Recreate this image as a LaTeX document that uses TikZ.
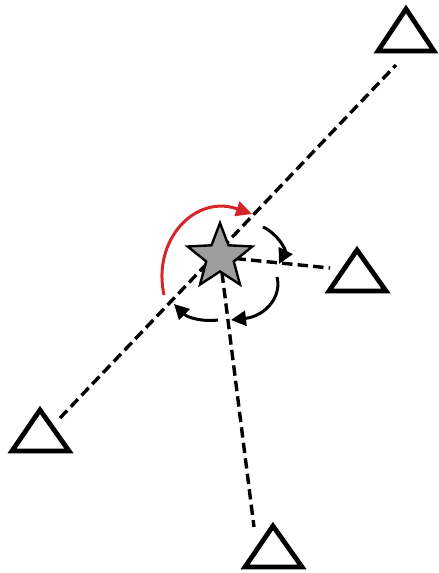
\documentclass[tikz,border=0pt]{standalone}
\usetikzlibrary{arrows.meta,backgrounds,shapes.geometric}
\definecolor{stargray}{RGB}{158,158,158}
\definecolor{arcred}{RGB}{214,36,40}
\tikzset{
  tri/.style={draw=black, line width=2.4pt, fill=white, line join=miter},
  dline/.style={draw=black, line width=1.7pt, dash pattern=on 5.2pt off 2.6pt},
  sarc/.style={draw=black, line width=1.5pt, -{Triangle[length=7.5pt,width=7.5pt]}},
  rarc/.style={draw=arcred, line width=1.5pt, -{Triangle[length=8pt,width=7.5pt]}},
  starnode/.style={star, star points=5, star point ratio=2.35, minimum size=34pt, inner sep=0pt,
    draw=black, line width=1.2pt, fill=stargray, line join=miter}
}
\begin{document}
\begin{tikzpicture}[x=0.5pt,y=-0.5pt]
\useasboundingbox (0,0) rectangle (439,573);
% star
\node[starnode] (s) at (220,257) {};
% line end points
\coordinate (lA) at (60,418);
\coordinate (lB) at (396,65);
\coordinate (rE) at (330,268);
\coordinate (bE) at (254,527);
\begin{pgfonlayer}{background}
\draw[dline] (lA) -- (lB);
\draw[dline] (s.center) -- (rE);
\draw[dline] (s.center) -- (bE);
\end{pgfonlayer}
% triangles
\draw[tri] (406,9) coordinate (tTR) -- (434,51) -- (378,51) -- cycle;
\draw[tri] (40,410) coordinate (tBL) -- (69,451) -- (12,451) -- cycle;
\draw[tri] (273,526) coordinate (tB) -- (302,567) -- (245,567) -- cycle;
\draw[tri] (357,250) coordinate (tR) -- (386,291) -- (329,291) -- cycle;
% arcs
\coordinate (a1s) at (263,227); \coordinate (a1e) at (279,264);
\coordinate (a2s) at (277,277); \coordinate (a2e) at (231,320);
\coordinate (a3s) at (218,320); \coordinate (a3e) at (174,304);
\coordinate (rs) at (164,295); \coordinate (re) at (252,214);
\draw[sarc] (a1s) .. controls (278,234) and (286,250) .. (a1e);
\draw[sarc] (a2s) .. controls (282,296) and (266,316) .. (a2e);
\draw[sarc] (a3s) .. controls (204,322) and (188,318) .. (a3e);
\draw[rarc] (rs) .. controls (152,240) and (195,194) .. (re);
\end{tikzpicture}
\end{document}
